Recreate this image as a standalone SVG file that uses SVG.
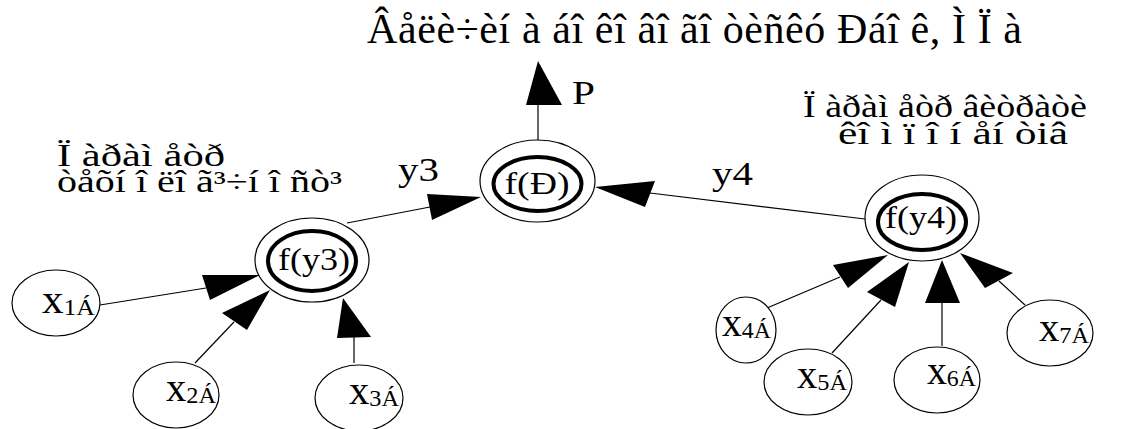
<svg xmlns="http://www.w3.org/2000/svg" width="1136" height="429" viewBox="0 0 1136 429">
<style>
text{font-family:"Liberation Serif","Times New Roman",serif;fill:#000}
.ttl{font-size:42px}
.lbl{font-size:31px}
.sl{font-size:33px}
.fn{font-size:32px}
.xv{font-size:40px}
.sb{font-size:24px}
.outer{fill:#fff;stroke:#000;stroke-width:1.2}
.inner{fill:none;stroke:#000;stroke-width:4}
.leaf{fill:#fff;stroke:#000;stroke-width:1.2}
.ln{stroke:#000;stroke-width:1.2;fill:none}
.ah{fill:#000;stroke:none}
</style>
<rect width="1136" height="429" fill="#fff"/>
<g id="labels">
<text class="ttl" x="367" y="43" lengthAdjust="spacing" textLength="655">Âåëè÷èí à áî êî âî ãî  òèñêó Ðáî ê, Ì Ï à</text>
<text class="lbl" x="57" y="166" textLength="168" lengthAdjust="spacingAndGlyphs">Ï àðàì åòð</text>
<text class="lbl" x="57" y="192" textLength="285" lengthAdjust="spacingAndGlyphs">òåõí î ëî ã³÷í î ñò³</text>
<text class="lbl" x="803" y="117" textLength="284" lengthAdjust="spacingAndGlyphs">Ï àðàì åòð âèòðàòè</text>
<text class="lbl" x="838" y="144" textLength="230" lengthAdjust="spacingAndGlyphs">êî ì ï î í åí òiâ</text>
<text class="sl" x="572" y="104" textLength="23" lengthAdjust="spacingAndGlyphs">P</text>
<text class="sl" x="398" y="181" textLength="41" lengthAdjust="spacingAndGlyphs">y3</text>
<text class="sl" x="712" y="185" textLength="41" lengthAdjust="spacingAndGlyphs">y4</text>
</g>
<g id="connectors">
<line class="ln" x1="538" y1="104" x2="538" y2="140"/>
<polygon class="ah" points="538,61 526,105 562,105"/>
<line class="ln" x1="347" y1="223" x2="430" y2="207"/>
<polygon class="ah" points="427,194 432,220 481,197"/>
<line class="ln" x1="650" y1="193" x2="865" y2="219"/>
<polygon class="ah" points="655,181 645,207 595,187"/>
<line class="ln" x1="100" y1="305" x2="206" y2="288"/>
<polygon class="ah" points="202,275 210,300 260,275"/>
<line class="ln" x1="195" y1="363" x2="234" y2="322"/>
<polygon class="ah" points="222,313 247,330 270,290"/>
<line class="ln" x1="354" y1="363" x2="354" y2="337"/>
<polygon class="ah" points="337,338 371,337 343,298"/>
<line class="ln" x1="767" y1="308" x2="840" y2="277"/>
<polygon class="ah" points="833,265 848,288 888,255"/>
<line class="ln" x1="832" y1="353" x2="881" y2="300"/>
<polygon class="ah" points="867,292 895,307 909,262"/>
<line class="ln" x1="942" y1="346" x2="942" y2="303"/>
<polygon class="ah" points="925,303 960,303 942,260"/>
<line class="ln" x1="1025" y1="305" x2="999" y2="281"/>
<polygon class="ah" points="985,288 1013,273 960,253"/>
</g>
<g id="node-fP">
<ellipse class="outer" cx="537.5" cy="181" rx="57.5" ry="41"/>
<ellipse class="inner" cx="537.5" cy="184" rx="44" ry="27"/>
<text class="fn" x="537" y="194" text-anchor="middle" textLength="65" lengthAdjust="spacingAndGlyphs">f(Ð)</text>
</g>
<g id="node-fy3">
<ellipse class="outer" cx="312" cy="260" rx="57" ry="42"/>
<ellipse class="inner" cx="312" cy="261" rx="44" ry="30"/>
<text class="fn" x="314" y="270" text-anchor="middle" textLength="72" lengthAdjust="spacingAndGlyphs">f(y3)</text>
</g>
<g id="node-fy4">
<ellipse class="outer" cx="922" cy="218" rx="57" ry="43"/>
<ellipse class="inner" cx="922" cy="222" rx="44" ry="28"/>
<text class="fn" x="921" y="228" text-anchor="middle" textLength="72" lengthAdjust="spacingAndGlyphs">f(y4)</text>
</g>
<g id="node-x1">
<ellipse class="leaf" cx="56" cy="303" rx="44" ry="33"/>
<text x="42" y="313" textLength="53" lengthAdjust="spacingAndGlyphs"><tspan class="xv">x</tspan><tspan class="sb" dy="2">1Á</tspan></text>
</g>
<g id="node-x2">
<ellipse class="leaf" cx="176" cy="395" rx="43" ry="33"/>
<text x="166" y="401" textLength="50" lengthAdjust="spacingAndGlyphs"><tspan class="xv">x</tspan><tspan class="sb" dy="2">2Á</tspan></text>
</g>
<g id="node-x3">
<ellipse class="leaf" cx="359" cy="398" rx="44" ry="33"/>
<text x="349" y="404" textLength="50" lengthAdjust="spacingAndGlyphs"><tspan class="xv">x</tspan><tspan class="sb" dy="2">3Á</tspan></text>
</g>
<g id="node-x4">
<ellipse class="leaf" cx="746" cy="330" rx="30" ry="33"/>
<text x="722" y="336" textLength="49" lengthAdjust="spacingAndGlyphs"><tspan class="xv">x</tspan><tspan class="sb" dy="2">4Á</tspan></text>
</g>
<g id="node-x5">
<ellipse class="leaf" cx="808" cy="382" rx="44" ry="33"/>
<text x="797" y="388" textLength="50" lengthAdjust="spacingAndGlyphs"><tspan class="xv">x</tspan><tspan class="sb" dy="2">5Á</tspan></text>
</g>
<g id="node-x6">
<ellipse class="leaf" cx="937" cy="380" rx="43" ry="33"/>
<text x="927" y="384" textLength="49" lengthAdjust="spacingAndGlyphs"><tspan class="xv">x</tspan><tspan class="sb" dy="2">6Á</tspan></text>
</g>
<g id="node-x7">
<ellipse class="leaf" cx="1050" cy="333" rx="43" ry="33"/>
<text x="1039" y="341" textLength="50" lengthAdjust="spacingAndGlyphs"><tspan class="xv">x</tspan><tspan class="sb" dy="2">7Á</tspan></text>
</g>
</svg>
